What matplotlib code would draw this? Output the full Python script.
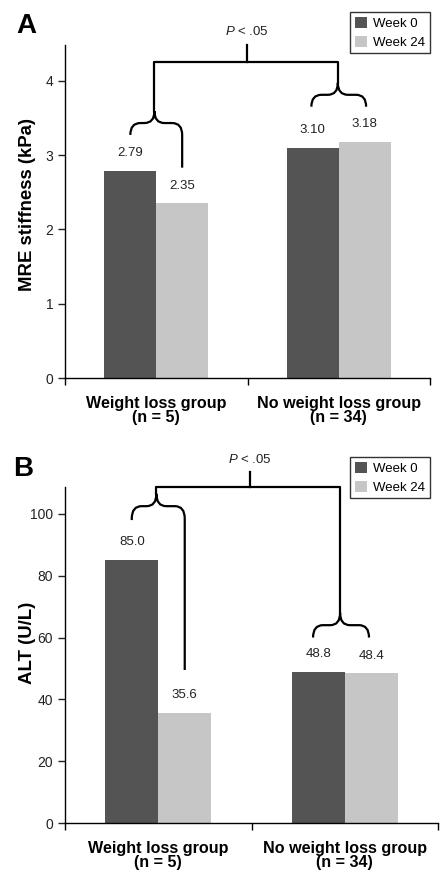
import matplotlib
matplotlib.use("Agg")
import matplotlib.pyplot as plt
from matplotlib.path import Path
from matplotlib.patches import PathPatch, Patch
import numpy as np

plt.rcParams['font.family'] = ['Liberation Sans', 'DejaVu Sans']
plt.rcParams['mathtext.fontset'] = 'custom'
plt.rcParams['mathtext.rm'] = 'Liberation Sans'
plt.rcParams['mathtext.it'] = 'Liberation Sans:italic'

# data
groups = ["Weight loss group\n(n = 5)", "No weight loss group\n(n = 34)"]
series = ["Week 0", "Week 24"]
mre_week0 = [2.79, 3.10]
mre_week24 = [2.35, 3.18]
alt_week0 = [85.0, 48.8]
alt_week24 = [35.6, 48.4]

DARK = "#545454"
LIGHT = "#c6c6c6"
BW = 0.284


def brace(ax, x1, x2, xc, ybar, y1, y2, rx, ry):
    # curly brace: ends go down to y1 / y2, tip points up at xc
    verts = [(x1, y1), (x1, ybar - ry),
             (x1, ybar), (x1 + rx, ybar),
             (xc - rx, ybar),
             (xc, ybar), (xc, ybar + ry),
             (xc, ybar), (xc + rx, ybar),
             (x2 - rx, ybar),
             (x2, ybar), (x2, ybar - ry),
             (x2, y2)]
    codes = [Path.MOVETO, Path.LINETO,
             Path.CURVE3, Path.CURVE3,
             Path.LINETO,
             Path.CURVE3, Path.CURVE3,
             Path.CURVE3, Path.CURVE3,
             Path.LINETO,
             Path.CURVE3, Path.CURVE3,
             Path.LINETO]
    ax.add_patch(PathPatch(Path(verts, codes), fill=False, lw=1.6,
                           ec="black", clip_on=False, capstyle='butt'))
    return ybar + ry


def panel(ax, w0, w24, fmt, ylim, yticks, ylabel, ylab_y):
    x = np.array([0.5, 1.5])
    ax.bar(x - BW / 2, w0, BW, color=DARK, label=series[0])
    ax.bar(x + BW / 2, w24, BW, color=LIGHT, label=series[1])
    off = ylim[1] * 0.035
    for xi, v in zip(x - BW / 2, w0):
        ax.text(xi, v + off, fmt.format(v), ha="center", va="bottom", fontsize=9.5, color="#222222")
    for xi, v in zip(x + BW / 2, w24):
        ax.text(xi, v + off, fmt.format(v), ha="center", va="bottom", fontsize=9.5, color="#222222")
    ax.set_xlim(0, 2)
    ax.set_ylim(*ylim)
    ax.set_yticks(yticks)
    ax.set_xticks([0, 1, 2])
    ax.set_xticklabels([])
    ax.set_xticks(x, minor=True)
    ax.set_xticklabels(groups, minor=True, fontweight="bold", fontsize=11.6, linespacing=0.88)
    ax.tick_params(axis="x", which="minor", length=0, pad=13)
    ax.tick_params(axis="x", which="major", length=5, width=1)
    ax.tick_params(axis="y", length=5, width=1, labelsize=10, colors="#222222")
    for s in ["top", "right"]:
        ax.spines[s].set_visible(False)
    ax.spines["left"].set_linewidth(1)
    ax.spines["bottom"].set_linewidth(1)
    ax.set_ylabel(ylabel, fontweight="bold", fontsize=13.4)
    ax.yaxis.set_label_coords(-29.5 / (ax.get_position().width * 448), ylab_y)


fig = plt.figure(figsize=(4.48, 8.8), dpi=100)
W, H = 448.0, 880.0
axA = fig.add_axes([65 / W, 1 - 378 / H, 365 / W, 333 / H])
axB = fig.add_axes([65 / W, 1 - 823 / H, 373 / W, 336 / H])

panel(axA, mre_week0, mre_week24, "{:.2f}", (0, 4.48), [0, 1, 2, 3, 4], "MRE stiffness (kPa)", 0.52)
panel(axB, alt_week0, alt_week24, "{:.1f}", (0, 108.7), [0, 20, 40, 60, 80, 100], "ALT (U/L)", 0.536)

# significance brackets, panel A
tipL = brace(axA, 0.358, 0.642, 0.49, 3.43, 3.27, 2.83, 0.055, 0.16)
tipR = brace(axA, 1.35, 1.65, 1.495, 3.81, 3.65, 3.65, 0.055, 0.16)
axA.plot([0.49, 0.49, 1.495, 1.495], [tipL, 4.25, 4.25, tipR], color="black", lw=1.6, clip_on=False)
axA.plot([0.995, 0.995], [4.25, 4.48], color="black", lw=1.6, clip_on=False)
axA.text(0.995, 4.57, "$P$ < .05", ha="center", va="bottom", fontsize=9.5, color="#222222")

# panel B
tipL = brace(axB, 0.358, 0.642, 0.49, 102.5, 98.0, 49.5, 0.053, 4.0)
tipR = brace(axB, 1.33, 1.63, 1.475, 64.0, 60.0, 60.0, 0.053, 4.0)
axB.plot([0.49, 0.49, 1.475, 1.475], [tipL, 108.7, 108.7, tipR], color="black", lw=1.6, clip_on=False)
axB.plot([0.99, 0.99], [108.7, 113.5], color="black", lw=1.6, clip_on=False)
axB.text(0.99, 115.5, "$P$ < .05", ha="center", va="bottom", fontsize=9.5, color="#222222")

# legends
handles = [Patch(facecolor=DARK, label=series[0]), Patch(facecolor=LIGHT, label=series[1])]
for ax, top in [(axA, 12), (axB, 457)]:
    leg = ax.legend(handles=handles, loc="upper right", bbox_to_anchor=(430 / W, 1 - top / H),
                    bbox_transform=fig.transFigure, fontsize=9.5, frameon=True, fancybox=False,
                    handlelength=0.9, handleheight=0.9, handletextpad=0.5, borderpad=0.35,
                    labelspacing=0.45, borderaxespad=0)
    leg.get_frame().set_edgecolor("black")
    leg.get_frame().set_linewidth(1.0)

fig.text(16 / W, 1 - 33 / H, "A", fontsize=20, fontweight="bold")
fig.text(13 / W, 1 - 476 / H, "B", fontsize=20, fontweight="bold")

fig.savefig("out.png", dpi=100)
